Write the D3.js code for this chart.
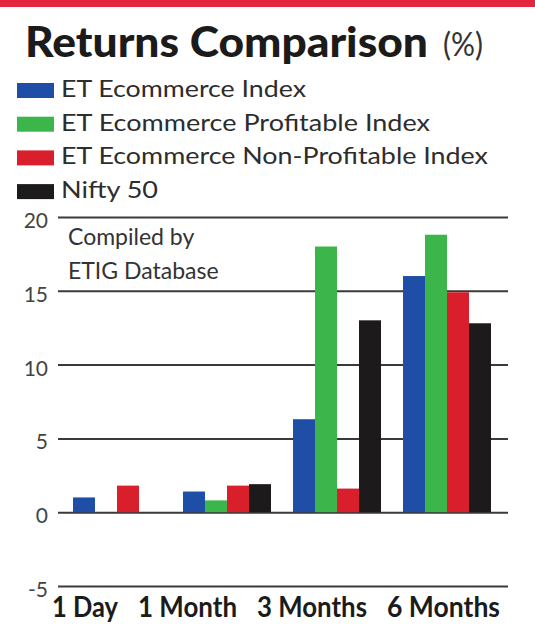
<!DOCTYPE html>
<html>
<head>
<meta charset="utf-8">
<script src="https://cdn.jsdelivr.net/npm/d3@7"></script>
<style>
  body { margin: 0; background: #fff; }
  svg { display: block; font-family: Lato, "Open Sans", sans-serif; }
</style>
</head>
<body>
<div id="chart"></div>
<script>
// data
const categories = ["1 Day", "1 Month", "3 Months", "6 Months"];
const seriesNames = ["ET Ecommerce Index", "ET Ecommerce Profitable Index", "ET Ecommerce Non-Profitable Index", "Nifty 50"];
const ecommerce = [1.0, 1.4, 6.3, 16.0];
const profitable = [0, 0.8, 18.0, 18.8];
const nonProfitable = [1.8, 1.8, 1.6, 14.9];
const nifty = [0, 1.9, 13.0, 12.8];
const yTicks = [-5, 0, 5, 10, 15, 20];
const colors = ["#1f4ea6", "#3cb54a", "#d91f2c", "#1c1a1a"];

const series = [ecommerce, profitable, nonProfitable, nifty];

// constants
const width = 535, height = 624;

const svg = d3.select("#chart")
    .append("svg")
    .attr("width", width)
    .attr("height", height);

// red strip on top
svg.append("rect")
    .attr("x", 0).attr("y", 0)
    .attr("width", width).attr("height", 7)
    .attr("fill", "#e3263d");

// title
svg.append("text")
    .attr("x", 25).attr("y", 57)
    .attr("font-size", 42)
    .attr("font-weight", 900)
    .attr("fill", "#1b1b1b")
    .attr("textLength", 403)
    .attr("lengthAdjust", "spacingAndGlyphs")
    .text("Returns Comparison");

svg.append("text")
    .attr("x", 443).attr("y", 56)
    .attr("font-size", 32)
    .attr("fill", "#333")
    .attr("textLength", 40)
    .attr("lengthAdjust", "spacingAndGlyphs")
    .text("(%)");

// legend
const legendWidths = [245, 369, 427, 97];
const legend = svg.append("g")
    .selectAll("g")
    .data(seriesNames)
    .join("g")
    .attr("transform", (d, i) => `translate(17, ${83 + i * 33.7})`);

legend.append("rect")
    .attr("width", 37).attr("height", 15)
    .attr("fill", (d, i) => colors[i]);

legend.append("text")
    .attr("x", 44).attr("y", 14)
    .attr("font-size", 24)
    .attr("fill", "#2d2d2d")
    .attr("textLength", (d, i) => legendWidths[i])
    .attr("lengthAdjust", "spacingAndGlyphs")
    .text(d => d);

// scales
const x0 = d3.scaleBand()
    .domain(categories)
    .range([73, 491])
    .paddingInner(0.2);

const x1 = d3.scaleBand()
    .domain(d3.range(series.length))
    .range([0, x0.bandwidth()]);

const y = d3.scaleLinear()
    .domain([-5, 20])
    .range([586, 217]);

// gridlines + y labels
const yAxis = svg.append("g")
    .attr("transform", "translate(58,0)")
    .call(d3.axisLeft(y)
        .tickValues(yTicks)
        .tickFormat(d => String(d))
        .tickSizeInner(-450)
        .tickSizeOuter(0)
        .tickPadding(10));

yAxis.select(".domain").remove();
yAxis.selectAll(".tick line")
    .attr("stroke", "#3a3a3a")
    .attr("stroke-width", 2);
yAxis.selectAll(".tick text")
    .attr("font-family", "Lato, sans-serif")
    .attr("font-size", 21)
    .attr("fill", "#444")
    .attr("dy", "0.5em");

// source note
const note = svg.append("text")
    .attr("font-size", 23)
    .attr("fill", "#333");
note.append("tspan").attr("x", 68).attr("y", 245).text("Compiled by");
note.append("tspan").attr("x", 68).attr("y", 279).text("ETIG Database");

// bars
svg.append("g")
    .selectAll("g")
    .data(categories)
    .join("g")
    .attr("transform", d => `translate(${x0(d)},0)`)
    .selectAll("rect")
    .data((d, ci) => series.map((s, si) => ({ si, v: s[ci] })))
    .join("rect")
    .attr("x", d => x1(d.si))
    .attr("width", x1.bandwidth())
    .attr("y", d => y(Math.max(0, d.v)))
    .attr("height", d => Math.abs(y(d.v) - y(0)))
    .attr("fill", d => colors[d.si]);

// category labels, set as one line
const labelWidths = [66, 99, 110, 113];
let lx = 52;
const xLabels = svg.append("g");
categories.forEach((c, i) => {
    xLabels.append("text")
        .attr("x", lx).attr("y", 617)
        .attr("font-size", 28)
        .attr("font-weight", 700)
        .attr("fill", "#1b1b1b")
        .attr("textLength", labelWidths[i])
        .attr("lengthAdjust", "spacingAndGlyphs")
        .text(c);
    lx += labelWidths[i] + 20;
});
</script>
</body>
</html>
